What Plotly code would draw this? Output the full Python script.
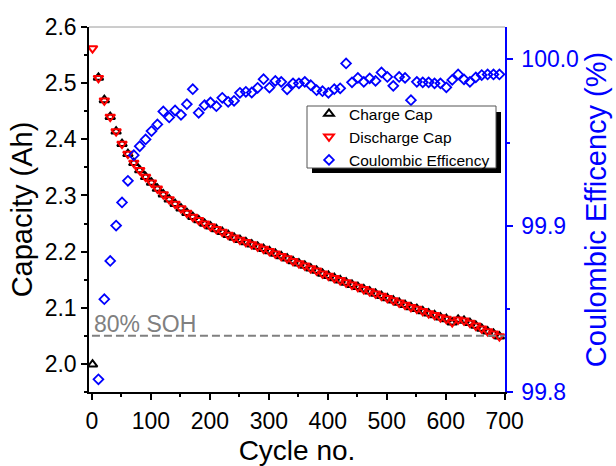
import plotly.graph_objects as go

# ---------------- data ----------------
cap_cycles = [1, 11, 21, 31, 41, 51, 61, 71, 81, 91,
              101, 111, 121, 131, 141, 151, 161, 171, 181, 191,
              201, 211, 221, 231, 241, 251, 261, 271, 281, 291,
              301, 311, 321, 331, 341, 351, 361, 371, 381, 391,
              401, 411, 421, 431, 441, 451, 461, 471, 481, 491,
              501, 511, 521, 531, 541, 551, 561, 571, 581, 591,
              601, 611, 621, 631, 641, 651, 661, 671, 681, 691]

discharge_cap = [2.562, 2.509, 2.469, 2.440, 2.414, 2.392, 2.374, 2.358, 2.345, 2.333,
                 2.323, 2.312, 2.302, 2.293, 2.285, 2.277, 2.269, 2.262, 2.256, 2.250,
                 2.245, 2.240, 2.235, 2.230, 2.225, 2.221, 2.217, 2.213, 2.209, 2.205,
                 2.201, 2.1965, 2.192, 2.188, 2.183, 2.179, 2.175, 2.170, 2.166, 2.161,
                 2.157, 2.153, 2.149, 2.145, 2.141, 2.137, 2.133, 2.129, 2.125, 2.121,
                 2.117, 2.113, 2.109, 2.105, 2.101, 2.098, 2.094, 2.090, 2.087, 2.083,
                 2.080, 2.074, 2.079, 2.077, 2.073, 2.068, 2.063, 2.058, 2.054, 2.049]

charge_cap = [1.999, 2.510, 2.470, 2.440, 2.414, 2.392, 2.374, 2.358, 2.345, 2.333,
              2.323, 2.312, 2.302, 2.293, 2.285, 2.277, 2.269, 2.262, 2.256, 2.250,
              2.245, 2.240, 2.235, 2.230, 2.225, 2.221, 2.217, 2.213, 2.209, 2.205,
              2.201, 2.1965, 2.192, 2.188, 2.183, 2.179, 2.175, 2.170, 2.166, 2.161,
              2.157, 2.153, 2.149, 2.145, 2.141, 2.137, 2.133, 2.129, 2.125, 2.121,
              2.117, 2.113, 2.109, 2.105, 2.101, 2.098, 2.094, 2.090, 2.087, 2.083,
              2.080, 2.074, 2.079, 2.077, 2.073, 2.068, 2.063, 2.058, 2.054, 2.049]

ce_cycles = [11, 21, 31, 41, 51, 61, 71, 81, 91,
             101, 111, 121, 131, 141, 151, 161, 171, 181, 191,
             201, 211, 221, 231, 241, 251, 261, 271, 281, 291,
             301, 311, 321, 331, 341, 351, 361, 371, 381, 391,
             401, 411, 421, 431, 441, 451, 461, 471, 481, 491,
             501, 511, 521, 531, 541, 551, 561, 571, 581, 591,
             601, 611, 621, 631, 641, 651, 661, 671, 681, 691]

coulombic_eff = [99.8076, 99.8558, 99.8788, 99.9001, 99.9140, 99.9270, 99.9424, 99.9478, 99.9519,
                 99.9569, 99.9609, 99.9687, 99.9651, 99.9693, 99.9667, 99.9731, 99.9821, 99.9679, 99.9725,
                 99.9741, 99.9719, 99.9769, 99.9745, 99.9751, 99.9799, 99.9805, 99.9801, 99.9829, 99.9881,
                 99.9831, 99.9871, 99.9865, 99.9820, 99.9856, 99.9856, 99.9865, 99.9845, 99.9815, 99.9809,
                 99.9799, 99.9821, 99.9826, 99.9976, 99.9862, 99.9889, 99.9865, 99.9886, 99.9871, 99.9922,
                 99.9895, 99.9841, 99.9895, 99.9889, 99.9755, 99.9865, 99.9862, 99.9862, 99.9856, 99.9856,
                 99.9832, 99.9877, 99.9910, 99.9880, 99.9865, 99.9892, 99.9906, 99.9910, 99.9910, 99.9910]

soh_level = 2.05
soh_label = "80% SOH"

x_ticks = [0, 100, 200, 300, 400, 500, 600, 700]
y_ticks = [2.0, 2.1, 2.2, 2.3, 2.4, 2.5, 2.6]
y2_ticks = [99.8, 99.9, 100.0]

# ---------------- figure ----------------
FONT = "Arial, Liberation Sans, sans-serif"
BLUE = "#0000FF"
RED = "#FF0000"

# plot area in pixels
L, R, T, B = 89, 505, 27, 392
PW, PH = R - L, B - T


def px_x(p):
    return (p - L) / PW


def px_y(p):
    return (B - p) / PH


fig = go.Figure()

fig.add_trace(go.Scatter(
    x=cap_cycles, y=charge_cap, mode="markers", name="Charge Cap",
    marker=dict(symbol="triangle-up-open", size=8.5, color="black", line=dict(width=2)),
))
fig.add_trace(go.Scatter(
    x=cap_cycles, y=discharge_cap, mode="markers", name="Discharge Cap",
    marker=dict(symbol="triangle-down-open", size=8.5, color=RED, line=dict(width=2)),
))
fig.add_trace(go.Scatter(
    x=ce_cycles, y=coulombic_eff, mode="markers", name="Coulombic Efficency",
    yaxis="y2",
    marker=dict(symbol="diamond-open", size=7.5, color=BLUE, line=dict(width=1.8)),
))

# 80% SOH dashed line
fig.add_shape(type="line", xref="x", yref="y", x0=0, x1=700, y0=soh_level, y1=soh_level,
              line=dict(color="#808080", width=2, dash="8px,4px"))
fig.add_annotation(x=0, y=soh_level, xref="x", yref="y", text=soh_label, showarrow=False,
                   xanchor="left", yanchor="bottom", yshift=-3,
                   font=dict(family=FONT, size=23, color="#808080"))

# top frame line (gray)
fig.add_shape(type="line", xref="paper", yref="paper", x0=0, x1=1, y0=1, y1=1,
              line=dict(color="#9a9a9a", width=1))

# legend shadow and box
fig.add_shape(type="rect", xref="paper", yref="paper",
              x0=px_x(312), x1=px_x(501), y0=px_y(173), y1=px_y(112),
              fillcolor="black", line=dict(width=0), layer="above")
fig.add_shape(type="rect", xref="paper", yref="paper",
              x0=px_x(307), x1=px_x(496), y0=px_y(168), y1=px_y(106),
              fillcolor="white", line=dict(color="#555555", width=1), layer="above")

fig.update_layout(
    width=616, height=466,
    margin=dict(l=L, r=616 - R, t=T, b=466 - B),
    plot_bgcolor="white", paper_bgcolor="white",
    font=dict(family=FONT, color="black"),
    showlegend=True,
    legend=dict(x=px_x(309), y=px_y(137), xanchor="left", yanchor="middle",
                bgcolor="rgba(0,0,0,0)", borderwidth=0,
                font=dict(family=FONT, size=15.5, color="black"),
                itemwidth=30, tracegroupgap=0),
    xaxis=dict(
        range=[-5, 700.5], tickvals=x_ticks, ticktext=[str(v) for v in x_ticks],
        automargin=False,
        showgrid=False, zeroline=False, showline=True, linecolor="black", linewidth=1.5,
        ticks="outside", ticklen=6, tickwidth=1.5, tickcolor="black",
        ticklabelstandoff=2,
        minor=dict(dtick=50, tick0=0, ticks="outside", ticklen=3, tickwidth=1.5, tickcolor="black"),
        tickfont=dict(family=FONT, size=23, color="black"),
        title=dict(text="Cycle no.", font=dict(family=FONT, size=28, color="black"), standoff=12),
    ),
    yaxis=dict(
        range=[1.95, 2.6], tickvals=y_ticks, ticktext=["%.1f" % v for v in y_ticks],
        automargin=False,
        showgrid=False, zeroline=False, showline=True, linecolor="black", linewidth=1.5,
        ticks="outside", ticklen=6, tickwidth=1.5, tickcolor="black",
        minor=dict(dtick=0.05, tick0=1.95, ticks="outside", ticklen=3, tickwidth=1.5, tickcolor="black"),
        tickfont=dict(family=FONT, size=23, color="black"),
        title=dict(text="Capacity (Ah)", font=dict(family=FONT, size=29, color="black"), standoff=4),
    ),
    yaxis2=dict(
        overlaying="y", side="right", anchor="x",
        automargin=False,
        range=[99.8, 100.0195], tickvals=y2_ticks, ticktext=["%.1f" % v for v in y2_ticks],
        showgrid=False, zeroline=False, showline=True, linecolor=BLUE, linewidth=1.5,
        ticks="outside", ticklen=6, tickwidth=1.5, tickcolor=BLUE,
        ticklabelstandoff=4,
        minor=dict(dtick=0.05, tick0=99.8, ticks="outside", ticklen=3, tickwidth=1.5, tickcolor=BLUE),
        tickfont=dict(family=FONT, size=23, color=BLUE),
        title=dict(text="Coulombic Efficency (%)", font=dict(family=FONT, size=29, color=BLUE), standoff=8),
    ),
)

fig.write_html("out.html")
